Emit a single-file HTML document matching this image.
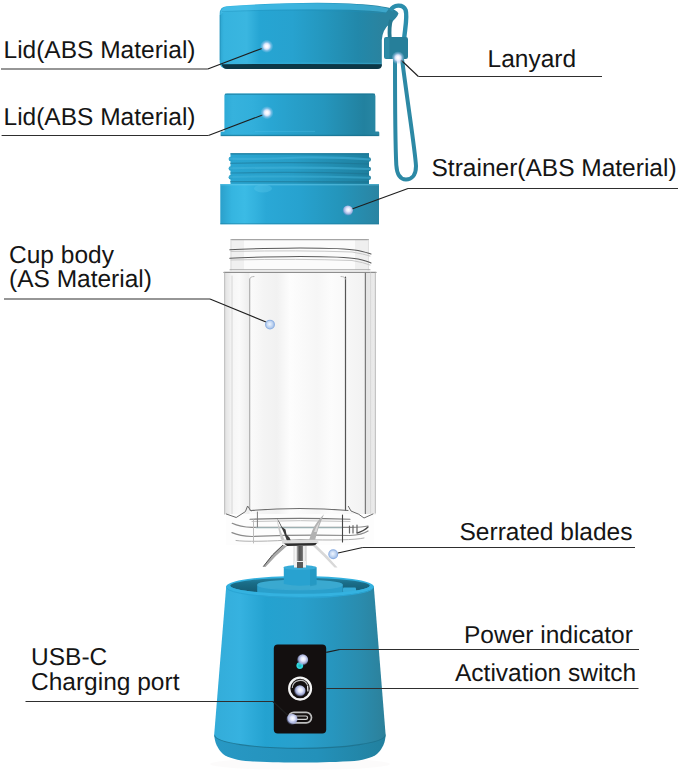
<!DOCTYPE html>
<html><head><meta charset="utf-8">
<style>
html,body{margin:0;padding:0;background:#fff;width:679px;height:782px;overflow:hidden}
svg{display:block}
text{font-family:"Liberation Sans",sans-serif;font-size:24.5px;fill:#151515;text-rendering:geometricPrecision}
</style></head><body>
<svg width="679" height="782" viewBox="0 0 679 782">

<rect width="679" height="782" fill="#fff"/>

<g id="product">
<defs>
  <linearGradient id="gLid" x1="219" x2="382" y1="0" y2="0" gradientUnits="userSpaceOnUse">
    <stop offset="0" stop-color="#2aa2cc"/>
    <stop offset="0.03" stop-color="#36b3de"/>
    <stop offset="0.17" stop-color="#3ab6e0"/>
    <stop offset="0.25" stop-color="#26a5d3"/>
    <stop offset="0.45" stop-color="#27a2cf"/>
    <stop offset="0.65" stop-color="#2496bd"/>
    <stop offset="0.85" stop-color="#2288aa"/>
    <stop offset="1" stop-color="#2a839f"/>
  </linearGradient>
  <linearGradient id="gLid2" x1="220" x2="380" y1="0" y2="0" gradientUnits="userSpaceOnUse">
    <stop offset="0" stop-color="#2aa6d2"/>
    <stop offset="0.08" stop-color="#36b2dd"/>
    <stop offset="0.2" stop-color="#32afdb"/>
    <stop offset="0.32" stop-color="#29a6d3"/>
    <stop offset="0.65" stop-color="#2596bd"/>
    <stop offset="0.9" stop-color="#22819f"/>
    <stop offset="1" stop-color="#2a88a4"/>
  </linearGradient>
  <linearGradient id="gThread" x1="228" x2="372" y1="0" y2="0" gradientUnits="userSpaceOnUse">
    <stop offset="0" stop-color="#2aa6d2"/>
    <stop offset="0.45" stop-color="#279dc6"/>
    <stop offset="1" stop-color="#1d7e9d"/>
  </linearGradient>
  <linearGradient id="gCollar" x1="220" x2="379" y1="0" y2="0" gradientUnits="userSpaceOnUse">
    <stop offset="0" stop-color="#2a9fca"/>
    <stop offset="0.075" stop-color="#35b5e0"/>
    <stop offset="0.155" stop-color="#3bbbe5"/>
    <stop offset="0.225" stop-color="#33b2de"/>
    <stop offset="0.29" stop-color="#2aa8d6"/>
    <stop offset="0.5" stop-color="#27a2cf"/>
    <stop offset="0.75" stop-color="#2495bb"/>
    <stop offset="1" stop-color="#2a84a2"/>
  </linearGradient>
  <linearGradient id="gBase" x1="214" x2="386" y1="0" y2="0" gradientUnits="userSpaceOnUse">
    <stop offset="0" stop-color="#33acd9"/>
    <stop offset="0.15" stop-color="#36b2e0"/>
    <stop offset="0.3" stop-color="#24a2d0"/>
    <stop offset="0.5" stop-color="#28a0cd"/>
    <stop offset="0.7" stop-color="#2795bd"/>
    <stop offset="0.85" stop-color="#2a8cae"/>
    <stop offset="1" stop-color="#2c809a"/>
  </linearGradient>
  <linearGradient id="gFoot" x1="214" x2="386" y1="0" y2="0" gradientUnits="userSpaceOnUse">
    <stop offset="0" stop-color="#2898c4"/>
    <stop offset="0.6" stop-color="#2391ba"/>
    <stop offset="1" stop-color="#22809e"/>
  </linearGradient>
  <linearGradient id="gShaft" x1="0" x2="1" y1="0" y2="0">
    <stop offset="0" stop-color="#d8d8d8"/>
    <stop offset="0.2" stop-color="#ffffff"/>
    <stop offset="0.32" stop-color="#8a8a8a"/>
    <stop offset="0.45" stop-color="#555"/>
    <stop offset="0.68" stop-color="#666"/>
    <stop offset="0.78" stop-color="#fafafa"/>
    <stop offset="1" stop-color="#c8c8c8"/>
  </linearGradient>
  <radialGradient id="gGlow" cx="0.5" cy="0.5" r="0.5">
    <stop offset="0" stop-color="#ffffff"/>
    <stop offset="0.2" stop-color="#fbfaff"/>
    <stop offset="0.45" stop-color="#e2e8fd" stop-opacity="0.92"/>
    <stop offset="0.7" stop-color="#b0cdf2" stop-opacity="0.5"/>
    <stop offset="1" stop-color="#a9d0ef" stop-opacity="0"/>
  </radialGradient>
  <radialGradient id="gPanelDot" cx="0.55" cy="0.42" r="0.58">
    <stop offset="0" stop-color="#ffffff"/>
    <stop offset="0.35" stop-color="#e2e6fb"/>
    <stop offset="0.7" stop-color="#aeb8e6" stop-opacity="0.9"/>
    <stop offset="1" stop-color="#8592d0" stop-opacity="0.1"/>
  </radialGradient>
  <radialGradient id="gDot" cx="0.45" cy="0.45" r="0.55">
    <stop offset="0" stop-color="#f0f6ff"/>
    <stop offset="0.5" stop-color="#c9dbf4"/>
    <stop offset="1" stop-color="#a4c0e8"/>
  </radialGradient>
  <linearGradient id="gInterior" x1="0" x2="0" y1="577" y2="594" gradientUnits="userSpaceOnUse">
    <stop offset="0" stop-color="#2586a8"/>
    <stop offset="0.35" stop-color="#1a6d88"/>
    <stop offset="1" stop-color="#135870"/>
  </linearGradient>
</defs>

<!-- ============ TOP LID ============ -->
<path d="M219.7,62 L219.7,13.5 Q219.8,6.8 226.5,6.2 Q300,1.2 350,3.4 Q378,5 388,7.5 Q397,10 398.5,13.5 Q397,18 390,23.5 Q382.5,29.5 381.8,40 L381.8,64 Q381.5,68.8 377,68.8 L227,68.8 Q219.8,68.8 219.7,62 Z" fill="url(#gLid)"/>
<path d="M220.5,13.5 Q221,7.4 226.8,6.8 Q300,1.8 350,4 Q378,5.6 389,8.7 L386,12.5 Q372,10.5 350,9.8 Q300,8 227,11.2 Q222,11.7 220.8,15 Z" fill="#4cc3ec" opacity="0.55"/>
<path d="M222,11.5 Q300,8.3 386,12.8" fill="none" stroke="#1f8fb8" stroke-width="0.8" opacity="0.5"/>
<path d="M221.6,64.3 Q300,63.6 381.8,64.3 L381.8,65.5 Q381.5,69.1 377,69.1 L227,69.1 Q222.6,69.1 221.6,64.3 Z" fill="#0c3746"/>
<path d="M222.5,63.4 Q300,62.7 381,63.4" fill="none" stroke="#3fb5de" stroke-width="1" opacity="0.5"/>
<path d="M220.2,15 L220.2,60" fill="none" stroke="#1d86ad" stroke-width="1" opacity="0.5"/>
<!-- lanyard top -->
<path d="M389.8,38 C389.2,31 389.5,25 391,20" fill="none" stroke="#247890" stroke-width="3.8"/>
<path d="M390.5,10.5 C393.5,4.5 403,3.8 405.6,10 C407.6,16 405.2,28 404.2,38" fill="none" stroke="#2b8eac" stroke-width="4.4"/>
<rect x="384" y="37" width="24" height="22" rx="2.2" fill="#267f9a"/>
<rect x="384.5" y="37.5" width="5" height="21" rx="1.5" fill="#3092b0" opacity="0.6"/>
<path d="M395,59 C395,100 395,140 396.3,165 C397,176 401,179.5 406,179.5 C411,179.5 416,176 416,166 C415,150 410,120 402,59" fill="none" stroke="#2c89a5" stroke-width="4"/>

<!-- ============ LID 2 ============ -->
<path d="M224.4,96 Q224.4,93.6 227,93.6 L373,93.6 Q375.4,93.6 375.4,96 L375.4,132 L224.4,132 Z" fill="url(#gLid2)"/>
<path d="M225,93.6 L375,93.6 L375,95 L225,95 Z" fill="#1a7593" opacity="0.55"/>
<rect x="220.6" y="131.5" width="158.7" height="4.5" rx="1.2" fill="url(#gLid2)"/>
<rect x="255" y="130.8" width="60" height="1.1" fill="#52c4ea" opacity="0.35"/>
<rect x="220.6" y="134.8" width="158.7" height="1.4" fill="#156b87" opacity="0.6"/>

<!-- ============ STRAINER ============ -->
<rect x="230.5" y="153.2" width="138.5" height="31" fill="url(#gThread)"/>
<rect x="230.5" y="153" width="138.5" height="1.6" fill="#1c7391" opacity="0.6"/>
<g fill="#2aa0c9">
  <ellipse cx="230.8" cy="159" rx="2.2" ry="2.3"/>
  <ellipse cx="230.8" cy="168.5" rx="2.2" ry="2.3"/>
  <ellipse cx="230.8" cy="177.3" rx="2.2" ry="2.3"/>
</g>
<g fill="#217f9e">
  <ellipse cx="368.8" cy="159.5" rx="2.2" ry="2.3"/>
  <ellipse cx="368.8" cy="169" rx="2.2" ry="2.3"/>
  <ellipse cx="368.8" cy="177.8" rx="2.2" ry="2.3"/>
</g>
<g fill="none">
  <path d="M229,158.6 Q260,159.5 300,157.5 Q340,157 370,159.5" stroke="#45b5dc" stroke-width="2.2" opacity="0.55"/>
  <path d="M229,168.3 Q300,166.5 370,169" stroke="#45b5dc" stroke-width="2.2" opacity="0.5"/>
  <path d="M229,177 Q300,175.5 370,177.8" stroke="#45b5dc" stroke-width="2" opacity="0.45"/>
  <path d="M230,163.3 Q300,161.8 369,164" stroke="#1b6d89" stroke-width="1.2" opacity="0.45"/>
  <path d="M230,173 Q300,171.5 369,173.8" stroke="#1b6d89" stroke-width="1.2" opacity="0.45"/>
  <path d="M230,181.6 L369,182" stroke="#1b6d89" stroke-width="1.3" opacity="0.5"/>
</g>
<rect x="220.3" y="184" width="158.7" height="40.3" fill="url(#gCollar)"/>
<rect x="220.3" y="184" width="158.7" height="1.4" fill="#6fd0f0" opacity="0.45"/>
<ellipse cx="263" cy="188.5" rx="9" ry="4" fill="#5cc8ec" opacity="0.35"/>
<rect x="220.3" y="223" width="158.7" height="1.3" fill="#1b7898" opacity="0.4"/>

<!-- ============ CUP ============ -->
<defs>
  <linearGradient id="gWallL" x1="224" x2="250" y1="0" y2="0" gradientUnits="userSpaceOnUse">
    <stop offset="0" stop-color="#e0e0e0"/>
    <stop offset="0.2" stop-color="#ededed"/>
    <stop offset="0.3" stop-color="#f6f6f6"/>
    <stop offset="0.6" stop-color="#fafafa"/>
    <stop offset="1" stop-color="#ececec"/>
  </linearGradient>
  <linearGradient id="gWallR" x1="346" x2="376" y1="0" y2="0" gradientUnits="userSpaceOnUse">
    <stop offset="0" stop-color="#f7f7f7"/>
    <stop offset="0.6" stop-color="#f2f2f2"/>
    <stop offset="0.66" stop-color="#e4e4e4"/>
    <stop offset="1" stop-color="#ececec"/>
  </linearGradient>
  <linearGradient id="gCenter" x1="250" x2="346" y1="0" y2="0" gradientUnits="userSpaceOnUse">
    <stop offset="0" stop-color="#fbfbfb"/>
    <stop offset="0.15" stop-color="#f4f4f4"/>
    <stop offset="0.28" stop-color="#f1f1f1"/>
    <stop offset="0.42" stop-color="#fdfdfd"/>
    <stop offset="0.7" stop-color="#f6f6f6"/>
    <stop offset="0.85" stop-color="#fcfcfc"/>
    <stop offset="1" stop-color="#f8f8f8"/>
  </linearGradient>
</defs>
<g fill="none" stroke-linecap="round">
  <!-- neck -->
  <rect x="231" y="239.5" width="137.5" height="30.5" fill="#fbfbfb" stroke="none"/>
  <rect x="232" y="240" width="12" height="30" fill="#f0f0f0" stroke="none"/>
  <rect x="355" y="240" width="12" height="30" fill="#efefef" stroke="none"/>
  <path d="M231,239.6 L368.5,239.6" stroke="#a4a4a4" stroke-width="1.2"/>
  <path d="M231,240 L231,270 M368.2,240 L368.2,270" stroke="#d2d2d2" stroke-width="1"/>
  <path d="M229.8,249.8 Q250,248.5 300,248 Q345,248 358,250.5 Q367,252.5 371,254" stroke="#5a5a5a" stroke-width="1.1"/>
  <path d="M229.8,258.2 Q250,257 300,256.5 Q345,256.5 358,259 Q367,261 371,263" stroke="#5a5a5a" stroke-width="1.1"/>
  <path d="M231,251.5 Q300,250 352,252 Q364,254 370,256" stroke="#c8c8c8" stroke-width="1"/>
  <path d="M231,260 Q300,258.5 352,260.5 Q364,262.5 370,265" stroke="#c8c8c8" stroke-width="1"/>
  <path d="M230,269.8 L370,269.8" stroke="#a8a8a8" stroke-width="1.1"/>
  <!-- body -->
  <rect x="224" y="272" width="152" height="243" fill="url(#gCenter)" stroke="none"/>
  <rect x="224.5" y="273" width="25" height="241" fill="url(#gWallL)" stroke="none"/>
  <rect x="346" y="273" width="29.5" height="241" fill="url(#gWallR)" stroke="none"/>
  <path d="M224,272.4 L376,272.4" stroke="#8e8e8e" stroke-width="1.3"/>
  <path d="M224.6,273 L224.6,514" stroke="#c4c4c4" stroke-width="1.2"/>
  <path d="M232,276 L232,514" stroke="#d6d6d6" stroke-width="1"/>
  <path d="M375.4,273 L375.4,513" stroke="#c4c4c4" stroke-width="1.2"/>
  <path d="M370.6,273 L370.6,513" stroke="#d8d8d8" stroke-width="1"/>
  <path d="M249.7,279 L249.7,510" stroke="#a8a8a8" stroke-width="1.1"/>
  <path d="M345.5,277 L345.5,510.5" stroke="#555" stroke-width="1.2"/>
  <path d="M365.4,273 L365.4,516" stroke="#7a7a7a" stroke-width="1.2"/>
  <path d="M249.7,279 Q250,276.5 254,276.5 M345.5,279 Q345.2,276.5 341,276.5" stroke="#b8b8b8" stroke-width="1"/>
  <!-- bottom of cup -->
  <rect x="226" y="514" width="148" height="31" fill="#fdfdfd" stroke="none"/>
  <path d="M226.3,514 L236.2,517.5 L245.4,511.6 L247.6,506 L251,511" stroke="#6a6a6a" stroke-width="1"/>
  <path d="M348.4,506.4 L351,511 Q360,514 364,518 L373,514" stroke="#6a6a6a" stroke-width="1"/>
  <path d="M251,510.5 Q300,506.5 348,510.5" stroke="#6e6e6e" stroke-width="1.1"/>
  <path d="M250,519.3 Q300,517.5 350,519.3" stroke="#7a7a7a" stroke-width="1.1"/>
  <path d="M252,521.5 Q300,519.8 350,521.5" stroke="#c4c4c4" stroke-width="1"/>
  <path d="M232.2,523.3 Q240,527 252,527.4 L350,527.4 Q362,527.5 368,526" stroke="#8a8a8a" stroke-width="1.2"/>
  <path d="M256,527.8 L342,527.8" stroke="#a6c0c4" stroke-width="1"/>
  <path d="M232,532.6 Q240,536 252,536.5 Q300,534.5 350,535.5 Q362,535 368,531" stroke="#8a8a8a" stroke-width="1.2"/>
  <path d="M236,540.5 Q250,542.5 300,539.5 Q350,541 364,538" stroke="#b0b0b0" stroke-width="1"/>
  <path d="M253.5,520 L253.5,543" stroke="#bdbdbd" stroke-width="1"/>
  <path d="M257.4,512 L257.4,527" stroke="#7a7a7a" stroke-width="1"/>
  <path d="M342.5,515 L342.5,542" stroke="#444" stroke-width="1.1"/>
  <path d="M349.5,526 L349.5,533 M353,525.5 L353,533 M357,525 L357,532.5" stroke="#666" stroke-width="1.2"/>
  <path d="M357,533 Q364,531 368,527" stroke="#444" stroke-width="1.3"/>
</g>
<!-- ============ BLADES ============ -->
<g>
  <path d="M276.8,518.2 Q281,526 284,533 L287,541 L291,541 L289.5,537.5 L286.5,534.5 L285.5,529.5 L282,527 Q280,522 276.8,518.2 Z" fill="#3a3a3a"/>
  <path d="M276.8,518.5 Q279,527 281.5,533 L285,541 L281,539.5 Q278,529 276.8,518.5 Z" fill="#c8c8c8"/>
  <path d="M324,514.2 Q316,522 312.5,530 Q310.5,535 309,540.5 L315,540.5 Q316.5,534 318.5,528 Q321,521 324,514.2 Z" fill="#b2b2b2"/>
  <path d="M320,521 Q316,526 314,532 L316.5,532 Q318,526 320,521 Z" fill="#d8d8d8"/>
  <path d="M281.5,540.3 L318,539.8 L318.5,543.5 L282.5,544 Z" fill="#dcdcdc"/>
  <path d="M284,543.5 L317,543 L315,545.6 L287,546 Z" fill="#2c2c2c"/>
  <path d="M283,545 Q272,554 263,567 L265.5,567 Q276,555 287,546 Z" fill="#a8a8a8"/>
  <path d="M283,545 Q272,554 263.3,566.5" stroke="#4e4e4e" stroke-width="1" fill="none"/>
  <path d="M316,545 Q327,555 337.5,567.5 L334.5,567.5 Q324,556 313,546 Z" fill="#d8d8d8"/>
  <rect x="293.5" y="546" width="13" height="20" fill="url(#gShaft)"/>
  <rect x="294" y="561" width="12" height="2" fill="#f0f0f0"/>
  <rect x="297" y="563" width="6" height="3" fill="#666"/>
</g>

<!-- ============ BASE ============ -->
<!-- foot -->
<ellipse cx="300" cy="764" rx="90" ry="6" fill="#efeaea" opacity="0.2"/>
<path d="M214.2,734.5 C214.5,742 217.5,749 223,754 C228,758 238,760.5 250,761.3 C270,762.3 285,762.6 300,762.6 C315,762.6 330,762.3 350,761.3 C362,760.5 372,758 377,754 C382.5,749 385.5,742 385.6,734.5 Z" fill="url(#gFoot)"/>
<!-- body -->
<path d="M226.2,586.5 L214.2,734.5 A85.7,14.2 0 0 0 385.6,734.5 L373.8,586.5 Z" fill="url(#gBase)"/>
<path d="M214.6,735.5 A85.4,13.3 0 0 0 385.3,735.5" fill="none" stroke="#1b6f8b" stroke-width="1.1" opacity="0.8"/>
<!-- rim top -->
<ellipse cx="300" cy="586.5" rx="73.8" ry="10.5" fill="#33b1df"/>
<ellipse cx="300" cy="585.8" rx="69.8" ry="8" fill="url(#gInterior)"/>
<!-- hub disc -->
<path d="M257.2,584.5 L342.8,584.5 L342.8,594 L257.2,594 Z" fill="#2a9fcb"/>
<ellipse cx="300" cy="594" rx="42.8" ry="5" fill="#2a9fcb"/>
<ellipse cx="300" cy="584.5" rx="42.8" ry="5" fill="#3aa9d0"/>
<path d="M257.5,585 A42.5,4.8 0 0 0 342.5,585" fill="none" stroke="#4bb4da" stroke-width="0.8" opacity="0.6"/>
<rect x="343" y="587.5" width="13" height="5" rx="1" fill="#35acd8"/>
<!-- stem -->
<path d="M283.8,567.5 L316.5,567.5 L316.5,584 Q300,587.5 283.8,584 Z" fill="#28a2d0"/>
<path d="M310,567.5 L316.5,567.5 L316.5,585 Q313,586 310,586.3 Z" fill="#2392bb" opacity="0.6"/>
<ellipse cx="300" cy="567.5" rx="16.5" ry="2.6" fill="#38acd8"/>
<rect x="294" y="563" width="12" height="4.5" fill="#f2f2f2"/>
<rect x="297" y="562" width="6" height="6" fill="#5a5a5a"/>
<!-- rim front lip -->
<path d="M226.2,586.5 A73.8,10.5 0 0 0 373.8,586.5 L369.8,585.8 A69.8,8 0 0 1 230.2,585.8 Z" fill="#34b2e0"/>
<path d="M226.8,588 A73.3,10 0 0 0 373.2,588" fill="none" stroke="#2aa5d4" stroke-width="1"/>

<!-- control panel -->
<rect x="273.8" y="644.6" width="52.4" height="88.8" rx="4" fill="#130f0f"/>
<!-- power led -->
<circle cx="299.8" cy="665.6" r="3.4" fill="#2fd6dc"/>
<circle cx="299.8" cy="665.8" r="1.6" fill="#16a8b0" opacity="0.6"/>
<circle cx="302.6" cy="659.9" r="5.6" fill="url(#gPanelDot)"/>
<!-- switch -->
<circle cx="300.1" cy="688.6" r="10.9" fill="none" stroke="#f4f4f4" stroke-width="2.3"/>
<path d="M292.3,688 A8,8 0 0 1 307.5,685" fill="none" stroke="#bdbdbd" stroke-width="1.1"/>
<path d="M307.6,685.5 L307.9,691.5" fill="none" stroke="#e8e8e8" stroke-width="1.3"/>
<circle cx="299.8" cy="691" r="5.8" fill="url(#gPanelDot)"/>
<!-- usb-c -->
<rect x="288.5" y="712.3" width="23" height="10.6" rx="5.3" fill="none" stroke="#bdbdbd" stroke-width="1.7"/>
<rect x="293" y="716" width="14.5" height="3.3" rx="1.6" fill="none" stroke="#d2d2d2" stroke-width="1.2"/>
<circle cx="292" cy="719.3" r="5.6" fill="url(#gPanelDot)"/>


</g>

<!-- labels -->
<g id="labels">
<text x="3.5" y="57.7">Lid(ABS Material)</text>
<text x="3.5" y="124.5">Lid(ABS Material)</text>
<text x="487.5" y="66.7">Lanyard</text>
<text x="431.5" y="175.9">Strainer(ABS Material)</text>
<text x="9" y="262.6">Cup body</text>
<text x="9" y="287">(AS Material)</text>
<text x="459.5" y="539.8">Serrated blades</text>
<text x="464" y="642.5">Power indicator</text>
<text x="455" y="680.8">Activation switch</text>
<text x="31" y="665.2">USB-C</text>
<text x="31" y="689.6">Charging port</text>
</g>

<g id="lines" fill="none" stroke-linejoin="round">
<g stroke="#2e2e2e" stroke-width="1.2">
<path d="M1,69 L207.8,69"/>
<path d="M1.6,135.5 L208.4,135.5"/>
<path d="M4,299 L210,299"/>
<path d="M602,76.5 L418.4,76.5"/>
<path d="M678,188.5 L408,188.5"/>
<path d="M635,547.5 L362.7,547.5"/>
<path d="M639,649.5 L339.8,649.5"/>
<path d="M638.5,688.5 L326.2,688.5"/>
<path d="M25.5,701.5 L273,701.5"/>
</g>
<g stroke="#1e1e1e" stroke-width="1.1">
<path d="M207.8,69 L262,48.4"/>
<path d="M208.4,135.5 L262.5,115"/>
<path d="M210,299 L266,322"/>
<path d="M418.4,76.5 L401,60"/>
<path d="M408,188.5 L352,209"/>
<path d="M362.7,547.5 L338,553"/>
<path d="M339.8,649.5 L326.2,652.4"/>
<path d="M273,701.5 L288,715.5"/>
</g>
</g>
<g id="dots">
<!-- ============ GLOW DOTS on blue parts ============ -->
<circle cx="266.7" cy="46.3" r="6.6" fill="url(#gGlow)"/>
<circle cx="267" cy="112.7" r="6.6" fill="url(#gGlow)"/>
<circle cx="398" cy="57.8" r="6.6" fill="url(#gGlow)"/>
<circle cx="347.8" cy="210.6" r="5.2" fill="url(#gPanelDot)"/>
<!-- dots on cup / blades -->
<circle cx="270" cy="324.6" r="4.4" fill="url(#gDot)" stroke="#8eb0e2" stroke-width="1.1"/>
<circle cx="333.2" cy="554.2" r="4.4" fill="url(#gDot)" stroke="#8eb0e2" stroke-width="1.1"/>

</g>
</svg>
</body></html>
